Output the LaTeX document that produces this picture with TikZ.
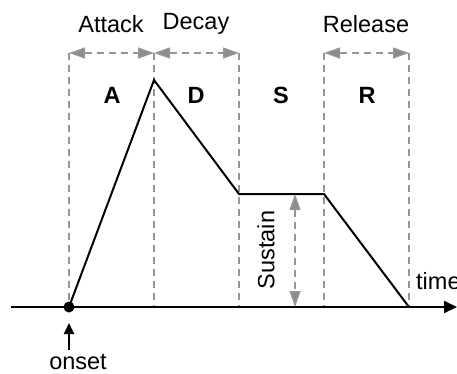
\documentclass[tikz,border=0pt]{standalone}
\usepackage{fontspec}
\setmainfont{Liberation Sans}
\usetikzlibrary{arrows.meta}
\definecolor{guide}{RGB}{150,150,150}
\definecolor{guidehead}{RGB}{140,140,140}
\begin{document}
\begin{tikzpicture}[x=1pt,y=-1pt,
  lbl/.style={font=\fontsize{23.5}{27}\selectfont, inner sep=0pt},
  seg/.style={font=\fontsize{23.5}{27}\selectfont\bfseries, inner sep=0pt},
  guideline/.style={draw=guide, line width=1.3pt, dash pattern=on 7pt off 5pt},
  span/.style={guideline, {Triangle[length=16pt,width=11pt,fill=guidehead]}-{Triangle[length=16pt,width=11pt,fill=guidehead]}, shorten <=0pt, shorten >=0pt},
  env/.style={draw=black, line width=2pt, line join=miter},
  pt/.style={inner sep=0pt, minimum size=0pt}
]
\useasboundingbox (0,0) rectangle (457,373);

% phase boundaries (tops and feet of the guide lines)
\foreach \n/\x in {t0/69, t1/154, t2/239, t3/324, t4/409} {
  \coordinate (\n top) at (\x,53);
  \coordinate (\n) at (\x,307);
}
\foreach \n in {t0,t1,t2,t3,t4}
  \draw[guideline] (\n top) -- (\n);

% phase spans
\draw[span] (t0top) -- (t1top);
\draw[span] (t1top) -- (t2top);
\draw[span] (t3top) -- (t4top);

\node[lbl] (attack) at (111,24) {Attack};
\node[lbl] (decay) at (196,24) {Decay};
\node[lbl] (release) at (366,24) {Release};

\node[seg] (A) at (112,95) {A};
\node[seg] (D) at (196,95) {D};
\node[seg] (S) at (281,95) {S};
\node[seg] (R) at (367,95) {R};

% time axis
\coordinate (axstart) at (11,307);
\coordinate (axend) at (457,307);
\draw[line width=2pt, -{Triangle[length=13pt,width=12pt]}] (axstart) -- (axend);
\node[lbl, anchor=west] (time) at (416,281) {time};

% envelope
\coordinate (peak) at (154,80);
\coordinate (sus1) at (239,194);
\coordinate (sus2) at (324,194);
\draw[env] (t0) -- (peak) -- (sus1) -- (sus2) -- (t4);
\fill (t0) circle (5.5pt);

% sustain level
\coordinate (susarrow) at (295,194);
\coordinate (susbase) at (295,307);
\draw[span] (susarrow) -- (susbase);
\node[lbl, rotate=90] (sustain) at (266,250) {Sustain};

% onset marker
\coordinate (onsettail) at (69,350);
\coordinate (onsettip) at (69,323);
\draw[line width=2pt, -{Triangle[length=11pt,width=10pt]}] (onsettail) -- (onsettip);
\node[lbl] (onset) at (78,362) {onset};
\end{tikzpicture}
\end{document}
